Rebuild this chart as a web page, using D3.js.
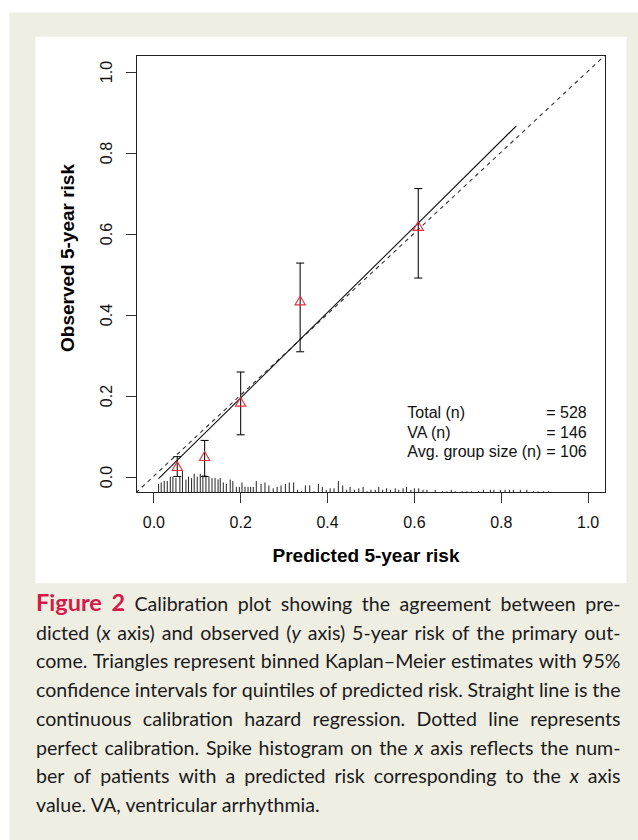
<!DOCTYPE html>
<html>
<head>
<meta charset="utf-8">
<script src="https://cdn.jsdelivr.net/npm/d3@7"></script>
<style>
  body { margin: 0; background: #fff; }
  svg { display: block; }
</style>
</head>
<body>
<div id="chart"></div>
<script>
const width = 638
const height = 840

// binned Kaplan-Meier estimates for quintiles of predicted risk
const binPred = [0.055, 0.118, 0.201, 0.338, 0.61]
const binObs = [0.022, 0.047, 0.181, 0.431, 0.615]
const binLo = [0.0, 0.0, 0.103, 0.308, 0.49]
const binHi = [0.049, 0.089, 0.258, 0.527, 0.711]

// continuous calibration (hazard regression)
const curvePred = [0.012, 0.2, 0.4, 0.6, 0.836]
const curveObs = [-0.005, 0.193, 0.404, 0.615, 0.866]

// spike histogram of predicted risk
const spikeX = [
  0.012, 0.018, 0.025, 0.032, 0.039, 0.045, 0.052, 0.061, 0.067, 0.075,
  0.081, 0.088, 0.094, 0.101, 0.108, 0.114, 0.121, 0.128, 0.135, 0.142,
  0.149, 0.154, 0.161, 0.168, 0.177, 0.183, 0.191, 0.198, 0.204, 0.211,
  0.218, 0.224, 0.23, 0.237, 0.248, 0.257, 0.266, 0.276, 0.285, 0.294,
  0.304, 0.313, 0.323, 0.332, 0.341, 0.35, 0.36, 0.37, 0.38, 0.389,
  0.398, 0.407, 0.416, 0.426, 0.436, 0.445, 0.453, 0.463, 0.473, 0.483,
  0.492, 0.501, 0.511, 0.519, 0.528, 0.537, 0.546, 0.557, 0.565, 0.575,
  0.583, 0.593, 0.601, 0.611, 0.621, 0.63, 0.649, 0.666, 0.676, 0.686,
  0.695, 0.711, 0.722, 0.733, 0.749, 0.76, 0.776, 0.784, 0.799, 0.81,
  0.82, 0.829, 0.845, 0.86, 0.875, 0.886, 0.898, 0.91
]
const spikeN = [
  6, 7, 8, 8, 11, 11, 10, 11, 15, 9,
  11, 10, 13, 11, 13, 12, 12, 11, 10, 10,
  9, 10, 7, 6, 9, 8, 4, 4, 7, 4,
  4, 4, 4, 8, 6, 7, 5, 3, 4, 5,
  6, 7, 7, 2, 1, 5, 5, 1, 6, 4,
  2, 3, 3, 8, 5, 2, 4, 2, 3, 4,
  1, 2, 2, 4, 2, 3, 2, 3, 2, 3,
  4, 2, 3, 3, 2, 2, 2, 1, 1, 2,
  1, 1, 1, 1, 1, 2, 2, 2, 2, 2,
  2, 2, 2, 2, 1, 1, 1, 1
]

const xTicks = [0, 0.2, 0.4, 0.6, 0.8, 1.0]
const yTicks = [0, 0.2, 0.4, 0.6, 0.8, 1.0]

const legendLabels = ['Total (n)', 'VA (n)', 'Avg. group size (n)']
const legendValues = ['= 528', '= 146', '= 106']

const xTitle = 'Predicted 5-year risk'
const yTitle = 'Observed 5-year risk'

// ^ toggles bold red, _ toggles italic
const captionLines = [
  '^Figure 2^ Calibration plot showing the agreement between pre-',
  'dicted (_x_ axis) and observed (_y_ axis) 5-year risk of the primary out-',
  'come. Triangles represent binned Kaplan\u2013Meier estimates with 95%',
  'confidence intervals for quintiles of predicted risk. Straight line is the',
  'continuous calibration hazard regression. Dotted line represents',
  'perfect calibration. Spike histogram on the _x_ axis reflects the num-',
  'ber of patients with a predicted risk corresponding to the _x_ axis',
  'value. VA, ventricular arrhythmia.'
]

const plotFont = '"Liberation Sans", Arial, Helvetica, sans-serif'
const captionFont = 'Lato, "Open Sans", sans-serif'

const plot = { left: 136, right: 605, top: 55.3, bottom: 492.7 }

const svg = d3
  .select('#chart')
  .append('svg')
  .attr('width', width)
  .attr('height', height)

// panels
svg.append('rect')
  .attr('x', 9.5).attr('y', 12.5)
  .attr('width', width - 9.5).attr('height', height - 12.5)
  .attr('fill', '#efeee3')

svg.append('rect')
  .attr('x', 35.5).attr('y', 36.7)
  .attr('width', 591).attr('height', 546.6)
  .attr('fill', '#fff')

const x = d3.scaleLinear().domain([-0.04, 1.04]).range([plot.left, plot.right])
const y = d3.scaleLinear().domain([-0.04, 1.04]).range([plot.bottom, plot.top])

svg.append('clipPath')
  .attr('id', 'plot-clip')
  .append('rect')
  .attr('x', plot.left).attr('y', plot.top)
  .attr('width', plot.right - plot.left)
  .attr('height', plot.bottom - plot.top)

const g = svg.append('g')

// spike histogram
const spikeScale = d3.scaleLinear()
  .domain([0, d3.max(spikeN)])
  .range([0, y(-0.04) - y(-0.04 + 0.05 * 1.08)])

g.selectAll('.spike')
  .data(spikeX)
  .enter()
  .append('line')
  .attr('class', 'spike')
  .attr('x1', d => x(d))
  .attr('x2', d => x(d))
  .attr('y1', plot.bottom)
  .attr('y2', (d, i) => plot.bottom - spikeScale(spikeN[i]))
  .attr('stroke', '#222')
  .attr('stroke-width', 1)

// perfect calibration
g.append('line')
  .attr('clip-path', 'url(#plot-clip)')
  .attr('x1', x(-0.04)).attr('y1', y(-0.04))
  .attr('x2', x(1.04)).attr('y2', y(1.04))
  .attr('stroke', '#333')
  .attr('stroke-width', 1.1)
  .attr('stroke-dasharray', '4,4')

// calibration curve
const line = d3.line()
  .x(d => x(d[0]))
  .y(d => y(d[1]))

g.append('path')
  .datum(curvePred.map((p, i) => [p, curveObs[i]]))
  .attr('d', line)
  .attr('fill', 'none')
  .attr('stroke', '#111')
  .attr('stroke-width', 1.1)

// error bars
const bars = g.selectAll('.bar')
  .data(binPred)
  .enter()
  .append('g')
  .attr('class', 'bar')

bars.append('line')
  .attr('x1', d => x(d)).attr('x2', d => x(d))
  .attr('y1', (d, i) => y(binLo[i]))
  .attr('y2', (d, i) => y(binHi[i]))
  .attr('stroke', '#111')
  .attr('stroke-width', 1.1)

bars.append('line')
  .attr('x1', d => x(d) - 4).attr('x2', d => x(d) + 4)
  .attr('y1', (d, i) => y(binLo[i]))
  .attr('y2', (d, i) => y(binLo[i]))
  .attr('stroke', '#111')
  .attr('stroke-width', 1.1)

bars.append('line')
  .attr('x1', d => x(d) - 4).attr('x2', d => x(d) + 4)
  .attr('y1', (d, i) => y(binHi[i]))
  .attr('y2', (d, i) => y(binHi[i]))
  .attr('stroke', '#111')
  .attr('stroke-width', 1.1)

// triangles
g.selectAll('.tri')
  .data(binPred)
  .enter()
  .append('path')
  .attr('class', 'tri')
  .attr('d', d3.symbol().type(d3.symbolTriangle).size(46))
  .attr('transform', (d, i) => 'translate(' + x(d) + ',' + y(binObs[i]) + ')')
  .attr('fill', 'none')
  .attr('stroke', '#e62e3c')
  .attr('stroke-width', 1.1)

// axes
const xAxis = svg.append('g')
  .attr('transform', 'translate(0,' + plot.bottom + ')')
  .call(d3.axisBottom(x).tickValues(xTicks).tickFormat(d3.format('.1f')).tickSize(10).tickPadding(14))

const yAxis = svg.append('g')
  .attr('transform', 'translate(' + plot.left + ',0)')
  .call(d3.axisLeft(y).tickValues(yTicks).tickFormat(d3.format('.1f')).tickSize(10).tickPadding(14))

svg.selectAll('.domain').remove()
svg.selectAll('.tick line')
  .attr('stroke', '#333')
  .attr('shape-rendering', 'crispEdges')
svg.selectAll('.tick text')
  .attr('font-family', plotFont)
  .attr('font-size', 16)
  .attr('fill', '#111')

xAxis.selectAll('.tick text').attr('dy', '0.71em')

yAxis.selectAll('.tick text')
  .attr('text-anchor', 'middle')
  .attr('dy', null)
  .attr('x', null)
  .attr('transform', d => 'translate(' + -24.3 + ',0) rotate(-90)')

// box
svg.append('rect')
  .attr('x', plot.left).attr('y', plot.top)
  .attr('width', plot.right - plot.left)
  .attr('height', plot.bottom - plot.top)
  .attr('fill', 'none')
  .attr('stroke', '#222')
  .attr('stroke-width', 1)
  .attr('shape-rendering', 'crispEdges')

// titles
svg.append('text')
  .attr('x', 366)
  .attr('y', 561.5)
  .attr('text-anchor', 'middle')
  .attr('font-family', plotFont)
  .attr('font-size', 19)
  .attr('font-weight', 700)
  .text(xTitle)

svg.append('text')
  .attr('transform', 'translate(74,258) rotate(-90)')
  .attr('text-anchor', 'middle')
  .attr('font-family', plotFont)
  .attr('font-size', 19)
  .attr('font-weight', 700)
  .text(yTitle)

// legend
const legend = svg.append('g')
  .attr('font-family', plotFont)
  .attr('font-size', 16)
  .attr('fill', '#111')

legend.selectAll('.lab')
  .data(legendLabels)
  .enter()
  .append('text')
  .attr('x', 407.3)
  .attr('y', (d, i) => 418.3 + i * 19.2)
  .text(d => d)

legend.selectAll('.val')
  .data(legendValues)
  .enter()
  .append('text')
  .attr('x', 586.7)
  .attr('y', (d, i) => 418.3 + i * 19.2)
  .attr('text-anchor', 'end')
  .text(d => d)

// caption, justified line by line
function parseLine(str) {
  const words = []
  let bold = false
  let italic = false
  let runs = []
  let buf = ''
  const flush = () => {
    if (buf) runs.push({ t: buf, bold, italic })
    buf = ''
  }
  for (const ch of str) {
    if (ch === '^') { flush(); bold = !bold }
    else if (ch === '_') { flush(); italic = !italic }
    else if (ch === ' ') {
      flush()
      if (runs.length) words.push(runs)
      runs = []
    } else buf += ch
  }
  flush()
  if (runs.length) words.push(runs)
  return words
}

const capLeft = 36
const capRight = 620.5
const capTop = 611
const capStep = 28.7

const caption = svg.append('g')
  .attr('font-family', captionFont)
  .attr('fill', '#1a1a1a')

function drawWord(parent, runs, size) {
  const t = parent.append('text').attr('font-size', size)
  runs.forEach(r => {
    t.append('tspan')
      .attr('font-weight', r.bold ? 700 : 400)
      .attr('font-style', r.italic ? 'italic' : 'normal')
      .attr('font-size', r.bold ? size * 1.2 : null)
      .attr('fill', r.bold ? '#d41a48' : null)
      .text(r.t)
  })
  return t
}

const parsed = captionLines.map(parseLine)

// fit the font size so the densest line keeps normal spaces
let capSize = 20
const probe = svg.append('g').attr('font-family', captionFont)
let maxNatural = 0
parsed.forEach(words => {
  let w = 0
  words.forEach(runs => {
    const t = drawWord(probe, runs, capSize)
    w += t.node().getComputedTextLength()
  })
  w += (words.length - 1) * capSize * 0.24
  maxNatural = Math.max(maxNatural, w)
})
probe.remove()
capSize = Math.min(capSize, capSize * (capRight - capLeft) / maxNatural)

parsed.forEach((words, li) => {
  const lineG = caption.append('g')
  const texts = words.map(runs => drawWord(lineG, runs, capSize))
  const widths = texts.map(t => t.node().getComputedTextLength())
  const total = d3.sum(widths)
  const last = li === parsed.length - 1
  const gap = last ? capSize * 0.24 : (capRight - capLeft - total) / (words.length - 1)
  let cx = capLeft
  texts.forEach((t, i) => {
    t.attr('x', cx).attr('y', capTop + li * capStep)
    cx += widths[i] + gap
  })
})
</script>
</body>
</html>
